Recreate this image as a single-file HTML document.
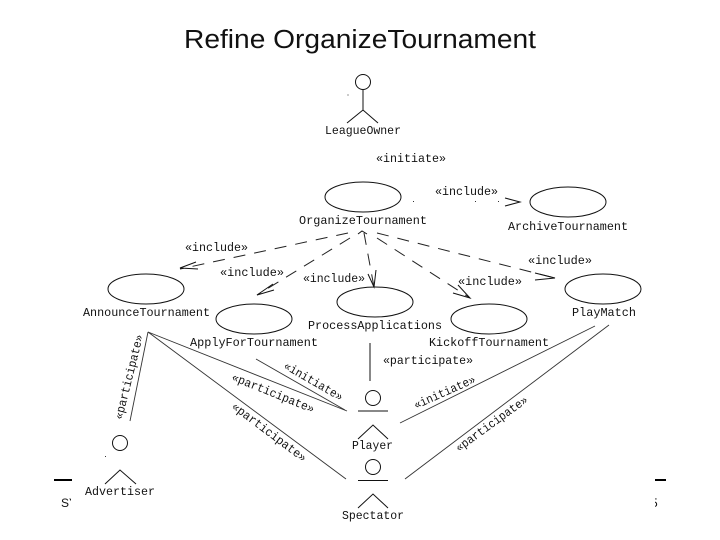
<!DOCTYPE html>
<html>
<head>
<meta charset="utf-8">
<style>
html,body{margin:0;padding:0;background:#fff;width:720px;height:540px;overflow:hidden}
svg{display:block}
text{fill:#111}
.m{font-family:"Liberation Mono",monospace;font-size:12px}
.s{fill:none;stroke:#111;stroke-width:1}
.t{fill:none;stroke:#333;stroke-width:.9}
.d{fill:none;stroke:#222;stroke-width:1;stroke-dasharray:12 9}
</style>
</head>
<body>
<svg width="720" height="540" viewBox="0 0 720 540" xmlns="http://www.w3.org/2000/svg">
<defs>
<clipPath id="cl"><rect x="55" y="490" width="16" height="22"/></clipPath>
<clipPath id="cr"><rect x="655" y="490" width="10" height="22"/></clipPath>
</defs>
<text x="184" y="48" font-family="'Liberation Sans',sans-serif" font-size="25.500" textLength="352" lengthAdjust="spacingAndGlyphs" fill="#000">Refine OrganizeTournament</text>

<!-- footer -->
<rect x="54" y="479" width="18" height="2" fill="#000"/>
<rect x="655" y="479" width="11" height="2" fill="#000"/>
<text x="61" y="507" font-family="'Liberation Sans',sans-serif" font-size="12" fill="#444" clip-path="url(#cl)">SY</text>
<text x="651" y="507" font-family="'Liberation Sans',sans-serif" font-size="12" fill="#444" clip-path="url(#cr)">5</text>

<!-- use cases -->
<g class="s">
<ellipse cx="363" cy="197" rx="38" ry="15"/>
<ellipse cx="568" cy="202" rx="38" ry="15"/>
<ellipse cx="146" cy="289" rx="38" ry="15"/>
<ellipse cx="254" cy="319" rx="38" ry="15"/>
<ellipse cx="375" cy="302" rx="38" ry="15"/>
<ellipse cx="489" cy="319" rx="38" ry="15"/>
<ellipse cx="603" cy="289" rx="38" ry="15"/>
</g>

<!-- actors -->
<g class="s">
<circle cx="363" cy="82" r="7.500"/>
<path d="M363 89V110M347 123L363 110L378 123"/>
<circle cx="120" cy="443" r="7.500"/>
<path d="M105 484L120 470L136 484"/>
<circle cx="373" cy="398" r="7.500"/>
<path d="M358 411H388M358 439L373 425L388 439"/>
<circle cx="373" cy="467" r="7.500"/>
<path d="M358 480.500H388M358 508L373 494L388 508"/>
</g>
<rect x="347.500" y="94.500" width="1" height="1" fill="#333"/>
<rect x="105" y="456" width="1" height="1" fill="#333"/>
<rect x="413" y="201" width="1" height="1" fill="#333"/>
<rect x="475" y="201" width="1" height="1" fill="#333"/>
<rect x="498" y="201" width="1" height="1" fill="#333"/>

<!-- dashed include connectors -->
<g class="d">
<path d="M348 233L180 269"/>
<path d="M350 238L257 295"/>
<path d="M364 233L374 287"/>
<path d="M377 238L470 298"/>
<path d="M377 233L555 278"/>
</g>
<g class="s">
<path d="M505 198L520 202L505 206"/>
<path d="M196 262L180 268L198 269"/>
<path d="M273 284L257 295L274 290"/>
<path d="M368 274L374 287L376 270"/>
<path d="M458 285L470 298L453 293"/>
<path d="M535 273L555 278L535 280"/>
<path d="M358 234L362 231L367 234"/>
</g>

<!-- solid connectors -->
<g class="t">
<path d="M148 332L130 421"/>
<path d="M148 332L347 411"/>
<path d="M148 332L346 479"/>
<path d="M256 359L345 410"/>
<path d="M595 326L400 423"/>
<path d="M609 325L405 479"/>
</g>
<path class="s" d="M370 343V381"/>

<!-- node labels -->
<g class="m">
<text x="325" y="134" textLength="76" lengthAdjust="spacingAndGlyphs">LeagueOwner</text>
<text x="299" y="224" textLength="128" lengthAdjust="spacingAndGlyphs">OrganizeTournament</text>
<text x="508" y="230" textLength="120" lengthAdjust="spacingAndGlyphs">ArchiveTournament</text>
<text x="83" y="316" textLength="127" lengthAdjust="spacingAndGlyphs">AnnounceTournament</text>
<text x="190" y="346" textLength="128" lengthAdjust="spacingAndGlyphs">ApplyForTournament</text>
<text x="308" y="329" textLength="134" lengthAdjust="spacingAndGlyphs">ProcessApplications</text>
<text x="429" y="346" textLength="120" lengthAdjust="spacingAndGlyphs">KickoffTournament</text>
<text x="572" y="316" textLength="64" lengthAdjust="spacingAndGlyphs">PlayMatch</text>
<text x="352" y="449" textLength="41" lengthAdjust="spacingAndGlyphs">Player</text>
<text x="85" y="495" textLength="70" lengthAdjust="spacingAndGlyphs">Advertiser</text>
<text x="342" y="519" textLength="62" lengthAdjust="spacingAndGlyphs">Spectator</text>
</g>

<!-- connector labels -->
<g class="m">
<text x="376" y="162" textLength="70" lengthAdjust="spacingAndGlyphs">«initiate»</text>
<text x="435" y="195" textLength="63" lengthAdjust="spacingAndGlyphs">«include»</text>
<text x="185" y="251" textLength="63" lengthAdjust="spacingAndGlyphs">«include»</text>
<text x="220" y="276" textLength="64" lengthAdjust="spacingAndGlyphs">«include»</text>
<text x="303" y="282" textLength="62" lengthAdjust="spacingAndGlyphs">«include»</text>
<text x="458" y="285" textLength="64" lengthAdjust="spacingAndGlyphs">«include»</text>
<text x="528" y="264" textLength="64" lengthAdjust="spacingAndGlyphs">«include»</text>
<text x="383" y="364" textLength="90" lengthAdjust="spacingAndGlyphs">«participate»</text>
<text transform="translate(122,420) rotate(-76)" textLength="87" lengthAdjust="spacingAndGlyphs">«participate»</text>
<text transform="translate(283,368) rotate(30)" textLength="66" lengthAdjust="spacingAndGlyphs">«initiate»</text>
<text transform="translate(231,380) rotate(22)" textLength="88" lengthAdjust="spacingAndGlyphs">«participate»</text>
<text transform="translate(231,408) rotate(37)" textLength="90" lengthAdjust="spacingAndGlyphs">«participate»</text>
<text transform="translate(416,409) rotate(-24)" textLength="66" lengthAdjust="spacingAndGlyphs">«initiate»</text>
<text transform="translate(459,452) rotate(-36)" textLength="86" lengthAdjust="spacingAndGlyphs">«participate»</text>
</g>
</svg>
</body>
</html>
